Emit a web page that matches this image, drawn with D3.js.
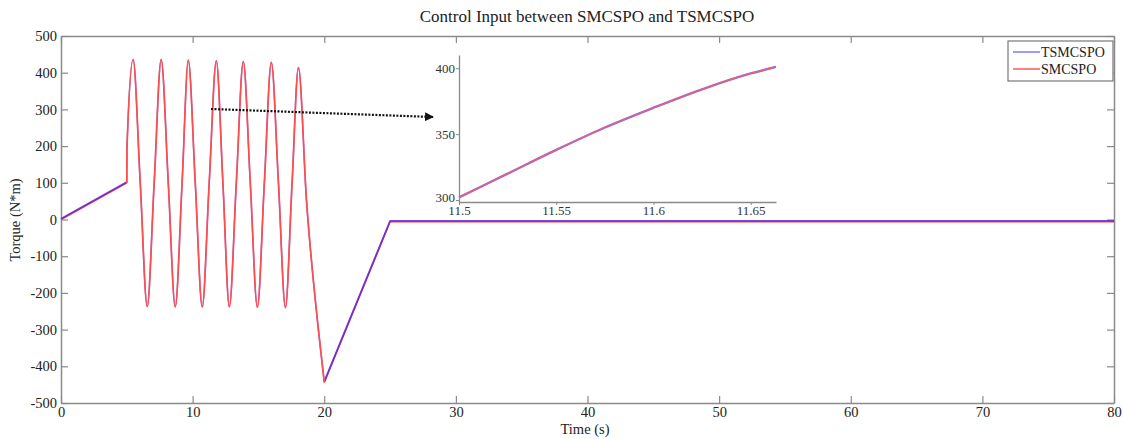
<!DOCTYPE html>
<html>
<head>
<meta charset="utf-8">
<script src="https://d3js.org/d3.v7.min.js"></script>
<style>
body { margin: 0; background: #fff; }
text { font-family: "Liberation Serif", "DejaVu Serif", serif; }
</style>
</head>
<body>
<div id="chart"></div>
<script>
// main curve (time in s, torque in N*m)
// ramp up, oscillation, ramp back, flat
var rampTimes = [0, 5];
var rampSmc = [0, 100];
var rampTsmc = [2, 102];

var waveTimes = [5, 5.01, 5.48, 6.02, 6.55, 7.08, 7.61, 8.15, 8.68, 9.2, 9.67, 10.2, 10.73, 11.26, 11.8, 12.3, 12.79, 13.32, 13.85, 14.38, 14.92, 15.45, 15.98, 16.52, 17.05, 17.55, 18.04, 18.65, 19.48, 20];
var waveSmc = [100, 193, 436, 100, -237, 100, 436, 100, -238, 100, 434, 100, -238, 100, 432, 100, -238, 100, 430, 100, -239, 100, 428, 100, -240, 95, 414, 52, -275, -444];
var waveTsmc = [100, 193, 436, 100, -237, 100, 436, 100, -238, 100, 434, 100, -238, 100, 432, 100, -238, 100, 430, 100, -239, 100, 428, 100, -240, 95, 414, 52, -275, -442];

var tailTimes = [20, 25, 40, 60, 80];
var tailSmc = [-444, -6, -6, -6, -6];
var tailTsmc = [-442, -4, -4, -4, -4];

// zoomed piece shown in the inset
var zoomTimes = [11.5, 11.525, 11.55, 11.575, 11.6, 11.625, 11.65, 11.663];
var zoomValues = [302, 320, 338, 355, 370, 384, 396, 401];

var xTicks = [0, 10, 20, 30, 40, 50, 60, 70, 80];
var yTicks = [-500, -400, -300, -200, -100, 0, 100, 200, 300, 400, 500];
var zoomXTicks = [11.5, 11.55, 11.6, 11.65];
var zoomYTicks = [300, 350, 400];

var seriesNames = ["TSMCSPO", "SMCSPO"];
var seriesColors = ["#7a70ff", "#ff4a4a"];

// plain hyphen minus like the original figure
var plain = function(d) { return String(d); };

var svg = d3.select("#chart").append("svg")
            .attr("width", 1123)
            .attr("height", 439);

var x = d3.scaleLinear().domain([0, 80]).range([61, 1114]);
var y = d3.scaleLinear().domain([-500, 500]).range([403, 36]);

// title
svg.append("text")
   .attr("x", 587)
   .attr("y", 22)
   .attr("text-anchor", "middle")
   .attr("font-size", 17)
   .attr("fill", "#222")
   .text("Control Input between SMCSPO and TSMCSPO");

// axes (MATLAB style box, ticks inward)
var axisColor = "#8a8a8a";
function styleAxis(g) {
  g.selectAll("path").attr("stroke", axisColor).attr("stroke-width", 1.5);
  g.selectAll("line").attr("stroke", axisColor).attr("stroke-width", 1.2);
  g.selectAll("text").attr("fill", "#222")
   .attr("font-family", "Liberation Serif, serif").attr("font-size", 14.5);
}

svg.append("g")
   .attr("transform", "translate(0,403)")
   .call(d3.axisBottom(x).tickValues(xTicks).tickSize(-7).tickSizeOuter(0).tickPadding(4).tickFormat(plain))
   .call(styleAxis);

svg.append("g")
   .attr("transform", "translate(0,36)")
   .call(d3.axisTop(x).tickValues(xTicks).tickSize(-7).tickSizeOuter(0).tickFormat(""))
   .call(styleAxis);

svg.append("g")
   .attr("transform", "translate(61,0)")
   .call(d3.axisLeft(y).tickValues(yTicks).tickSize(-7).tickSizeOuter(0).tickPadding(4).tickFormat(plain))
   .call(styleAxis);

svg.append("g")
   .attr("transform", "translate(1114,0)")
   .call(d3.axisRight(y).tickValues(yTicks).tickSize(-7).tickSizeOuter(0).tickFormat(""))
   .call(styleAxis);

// axis labels
svg.append("text")
   .attr("x", 585)
   .attr("y", 434)
   .attr("text-anchor", "middle")
   .attr("font-size", 14.5)
   .attr("fill", "#222")
   .text("Time (s)");

svg.append("text")
   .attr("transform", "translate(20,220) rotate(-90)")
   .attr("text-anchor", "middle")
   .attr("font-size", 14.5)
   .attr("fill", "#222")
   .text("Torque (N*m)");

// lines
function pairs(ts, vs) {
  return ts.map(function(t, i) { return [t, vs[i]]; });
}
var straight = d3.line()
                 .x(function(d) { return x(d[0]); })
                 .y(function(d) { return y(d[1]); });
var smooth = d3.line()
               .x(function(d) { return x(d[0]); })
               .y(function(d) { return y(d[1]); })
               .curve(d3.curveMonotoneX);

function drawPath(data, gen, color, width, opacity) {
  svg.append("path")
     .datum(data)
     .attr("d", gen)
     .attr("fill", "none")
     .attr("stroke", color)
     .attr("stroke-width", width)
     .attr("stroke-opacity", opacity)
     .attr("stroke-linejoin", "round");
}

// straight parts: blue drawn over red, so they read purple
drawPath(pairs(rampTimes, rampSmc), straight, "#ff3b3b", 1.6, 1);
drawPath(pairs(tailTimes, tailSmc), straight, "#ff3b3b", 1.6, 1);
drawPath(pairs(rampTimes, rampTsmc), straight, "#5a2ae0", 1.8, 0.85);
drawPath(pairs(tailTimes, tailTsmc), straight, "#5a2ae0", 1.8, 0.85);
// oscillation: red on top
drawPath(pairs(waveTimes, waveTsmc), smooth, "#7a70ff", 1.4, 1);
drawPath(pairs(waveTimes, waveSmc), smooth, "#ff4d4d", 1.7, 1);

// dotted arrow to the inset
svg.append("defs").append("marker")
   .attr("id", "arrowhead")
   .attr("viewBox", "0 0 10 10")
   .attr("refX", 9)
   .attr("refY", 5)
   .attr("markerWidth", 4)
   .attr("markerHeight", 4)
   .attr("orient", "auto")
   .append("path")
   .attr("d", "M0,0 L10,5 L0,10 Z")
   .attr("fill", "#111");

svg.append("line")
   .attr("x1", 211)
   .attr("y1", 109)
   .attr("x2", 433)
   .attr("y2", 117)
   .attr("stroke", "#111")
   .attr("stroke-width", 2.2)
   .attr("stroke-dasharray", "2,1.5")
   .attr("marker-end", "url(#arrowhead)");

// inset
var zx = d3.scaleLinear().domain([11.5, 11.663]).range([459, 776]);
var zy = d3.scaleLinear().domain([298.5, 410]).range([202, 55]);

svg.append("rect")
   .attr("x", 459)
   .attr("y", 55)
   .attr("width", 317)
   .attr("height", 147)
   .attr("fill", "#fff");

function styleInset(g) {
  g.selectAll("path").attr("stroke", "#8a8a8a").attr("stroke-width", 1.3);
  g.selectAll("line").attr("stroke", "#8a8a8a");
  g.selectAll("text").attr("fill", "#333")
   .attr("font-family", "Liberation Serif, serif").attr("font-size", 13);
}

svg.append("g")
   .attr("transform", "translate(0,202)")
   .call(d3.axisBottom(zx).tickValues(zoomXTicks).tickSize(3).tickSizeOuter(0).tickPadding(1).tickFormat(plain))
   .call(styleInset);

svg.append("g")
   .attr("transform", "translate(459,0)")
   .call(d3.axisLeft(zy).tickValues(zoomYTicks).tickSize(3).tickSizeOuter(0).tickPadding(1).tickFormat(plain))
   .call(styleInset)
   .selectAll(".tick text")
   .attr("dy", function(d) { return d === 300 ? "0.1em" : "0.32em"; });

var zoomLine = d3.line()
                 .x(function(d) { return zx(d[0]); })
                 .y(function(d) { return zy(d[1]); })
                 .curve(d3.curveMonotoneX);

var zoomData = pairs(zoomTimes, zoomValues);

svg.append("path")
   .datum(zoomData)
   .attr("d", zoomLine)
   .attr("fill", "none")
   .attr("stroke", "#7a70ff")
   .attr("stroke-width", 2.4);

svg.append("path")
   .datum(zoomData)
   .attr("d", zoomLine)
   .attr("fill", "none")
   .attr("stroke", "#ff5a5a")
   .attr("stroke-width", 1.3);

// legend
var legend = svg.append("g");
legend.append("rect")
      .attr("x", 1008)
      .attr("y", 41)
      .attr("width", 105)
      .attr("height", 40)
      .attr("fill", "#fff")
      .attr("stroke", "#777")
      .attr("stroke-width", 1.2);

seriesNames.forEach(function(name, i) {
  legend.append("line")
        .attr("x1", 1013)
        .attr("x2", 1040)
        .attr("y1", 52 + i * 17)
        .attr("y2", 52 + i * 17)
        .attr("stroke", seriesColors[i])
        .attr("stroke-width", 1.4);
  legend.append("text")
        .attr("x", 1041)
        .attr("y", 57 + i * 17)
        .attr("font-size", 14)
        .attr("fill", "#222")
        .text(name);
});
</script>
</body>
</html>
